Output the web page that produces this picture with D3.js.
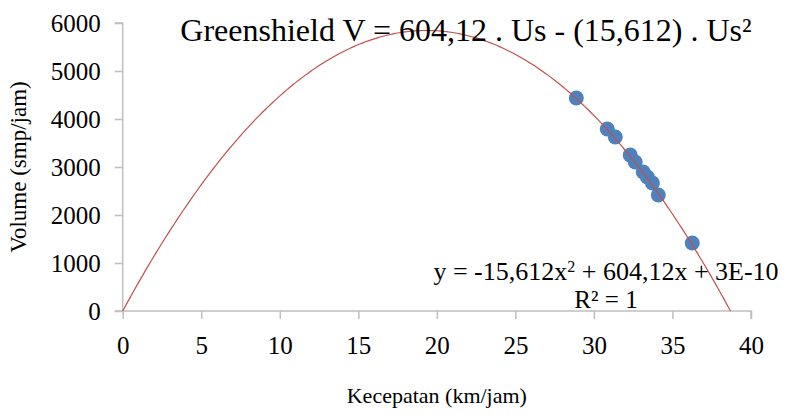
<!DOCTYPE html>
<html>
<head>
<meta charset="utf-8">
<script src="https://cdn.jsdelivr.net/npm/d3@7/dist/d3.min.js"></script>
<style>
  html, body { margin: 0; padding: 0; background: #fff; }
  svg { display: block; }
  text { font-family: "Liberation Serif", "Times New Roman", "DejaVu Serif", serif; fill: #000; }
</style>
</head>
<body>
<svg id="chart" width="789" height="414"></svg>
<script>
// Observed speed (km/jam) and volume (smp/jam)
const speeds  = [28.88, 30.85, 31.36, 32.31, 32.63, 33.14, 33.40, 33.72, 34.10, 36.26];
const volumes = [4437, 3792, 3625, 3250, 3104, 2896, 2792, 2667, 2417, 1417];

// Polynomial trendline coefficients: V = a*Us^2 + b*Us + c
const trendCoef = [-15.612, 604.12, 3e-10];

const xTicks = [0, 5, 10, 15, 20, 25, 30, 35, 40];
const yTicks = [0, 1000, 2000, 3000, 4000, 5000, 6000];

const titleText = "Greenshield V = 604,12 . Us - (15,612) . Us²";
const xLabel = "Kecepatan (km/jam)";
const yLabel = "Volume (smp/jam)";

const serif = '"Liberation Serif", "Times New Roman", "DejaVu Serif", serif';

const svg = d3.select("#chart");
const x = d3.scaleLinear().domain([0, 40]).range([122.7, 751]);
const y = d3.scaleLinear().domain([0, 6000]).range([311, 23]);

const axisColor = "#bfbfbf";

// Y axis
const gy = svg.append("g").attr("transform", `translate(${x(0)},0)`)
  .call(d3.axisLeft(y).tickValues(yTicks).tickSize(8).tickPadding(14).tickFormat(d3.format("d")));
gy.attr("font-family", null).attr("font-size", null);
gy.select(".domain").attr("stroke", axisColor).attr("stroke-width", 1.5).attr("d", `M-8,${y(6000)}H0V${y(0)}`);
gy.selectAll(".tick line").attr("stroke", axisColor).attr("stroke-width", 1.5);
gy.selectAll(".tick text").style("font-size", "25px").style("font-family", serif).attr("fill", "#000").attr("dy", "0.34em");

// X axis
const gx = svg.append("g").attr("transform", `translate(0,${y(0)})`)
  .call(d3.axisBottom(x).tickValues(xTicks).tickSize(8).tickPadding(15).tickFormat(d3.format("d")));
gx.attr("font-family", null).attr("font-size", null);
gx.select(".domain").attr("stroke", axisColor).attr("stroke-width", 1.5).attr("d", `M${x(0) - 8},0H${x(40)}V8`);
gx.selectAll(".tick line").attr("stroke", axisColor).attr("stroke-width", 1.5);
gx.selectAll(".tick text").style("font-size", "25px").style("font-family", serif).attr("fill", "#000").attr("dy", "0.8em");

// Data points
svg.append("g").selectAll("circle")
  .data(speeds.map((s, i) => [s, volumes[i]]))
  .join("circle")
  .attr("cx", d => x(d[0]))
  .attr("cy", d => y(d[1]))
  .attr("r", 7.5)
  .attr("fill", "#4f81bd");

// Trendline from Us = 0 to the zero-volume speed
const [a, b, c] = trendCoef;
const root = (-b - Math.sqrt(b * b - 4 * a * c)) / (2 * a);
const curvePts = d3.range(0, 201).map(i => {
  const s = root * i / 200;
  return [s, a * s * s + b * s + c];
});
svg.append("path")
  .datum(curvePts)
  .attr("fill", "none")
  .attr("stroke", "#c0504d")
  .attr("stroke-width", 1.2)
  .attr("d", d3.line().x(d => x(d[0])).y(d => y(Math.max(0, d[1]))));

// Title
svg.append("text")
  .attr("x", 466).attr("y", 41)
  .attr("text-anchor", "middle")
  .style("font-size", "32px")
  .text(titleText);

// Trendline equation
const eq = svg.append("text")
  .attr("x", 606).attr("y", 280)
  .attr("text-anchor", "middle")
  .style("font-size", "26px");
eq.append("tspan").text("y = -15,612x");
eq.append("tspan").attr("baseline-shift", "super").style("font-size", "16px").text("2");
eq.append("tspan").text(" + 604,12x + 3E-10");

svg.append("text")
  .attr("x", 606).attr("y", 308)
  .attr("text-anchor", "middle")
  .style("font-size", "25px")
  .text("R² = 1");

// Axis titles
svg.append("text")
  .attr("x", x(20)).attr("y", 403)
  .attr("text-anchor", "middle")
  .style("font-size", "22px")
  .text(xLabel);

svg.append("text")
  .attr("transform", `translate(26,${y(3000)}) rotate(-90)`)
  .attr("text-anchor", "middle")
  .style("font-size", "23px")
  .text(yLabel);
</script>
</body>
</html>
